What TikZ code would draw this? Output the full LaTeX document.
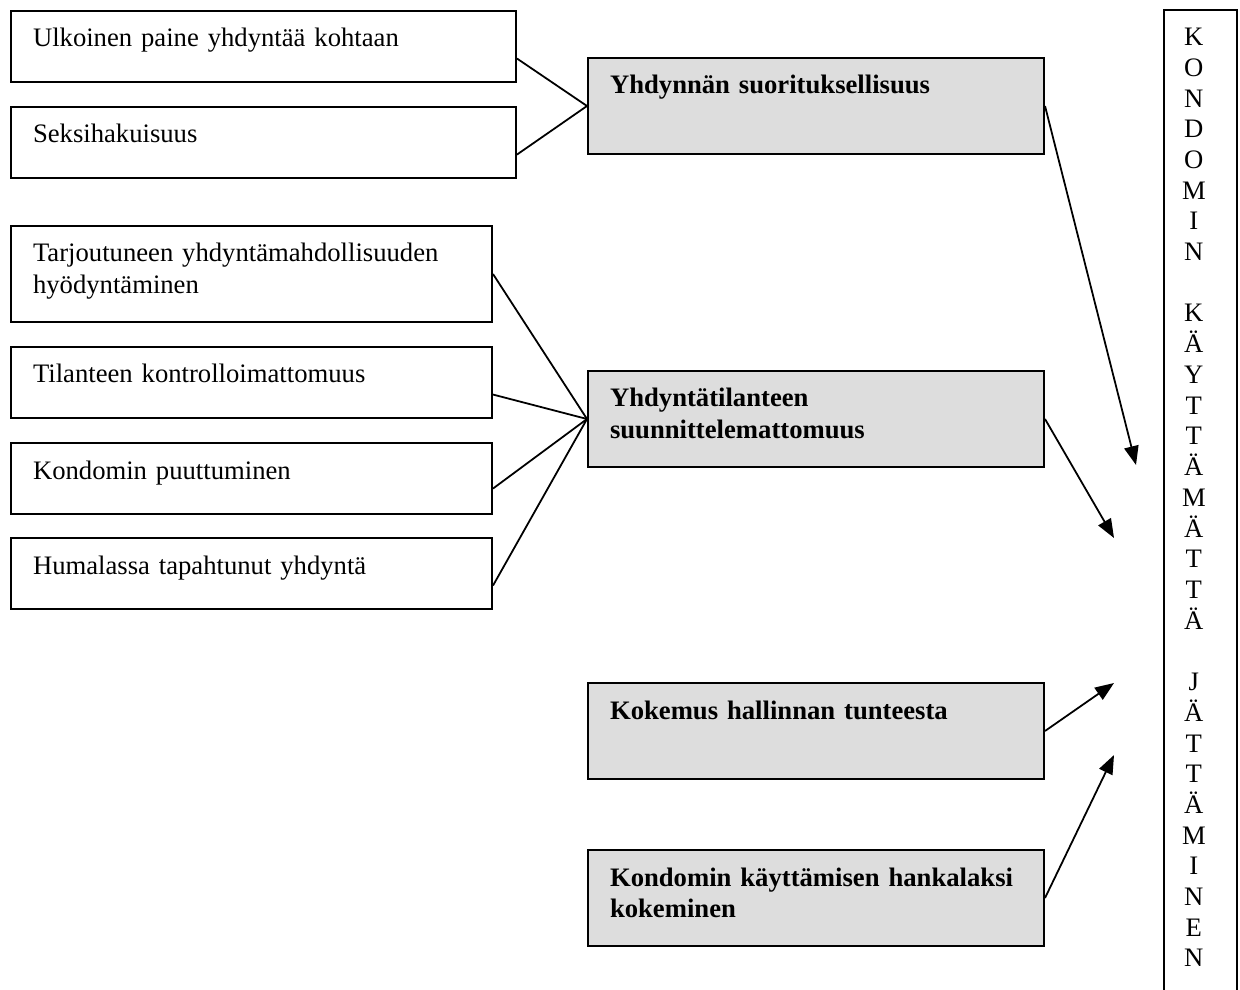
\documentclass[tikz,border=0pt]{standalone}
\usepackage{fontspec}
\setmainfont{Liberation Serif}
\usetikzlibrary{arrows.meta}
\definecolor{boxgray}{RGB}{221,221,221}
\tikzset{
  cause/.style={draw, line width=0.9pt, anchor=north west, align=left,
    inner xsep=9.9pt, inner ysep=0pt, text height=16.2pt, text depth=15.8pt,
    text width=#1, font=\fontsize{12}{14}\selectfont},
  factor/.style={cause=185.4pt, fill=boxgray, text depth=27pt,
    font=\fontsize{12}{14}\selectfont\bfseries},
  link/.style={line width=0.8pt},
  effect/.style={link, -{Triangle[length=8.5pt,width=6.5pt]}},
}

\begin{document}
\begin{tikzpicture}[x=0.45pt, y=-0.45pt]
  \useasboundingbox (0,0) rectangle (1240,990);

  % Background causes
  \node[cause=207.45pt] (ulk) at (10,10) {Ulkoinen paine yhdyntää kohtaan};
  \node[cause=207.45pt] (seks) at (10,106) {Seksihakuisuus};
  \node[cause=196.65pt, text depth=27pt] (tarj) at (10,225) {Tarjoutuneen yhdyntämahdollisuuden\\hyödyntäminen};
  \node[cause=196.65pt] (kontr) at (10,346) {Tilanteen kontrolloimattomuus};
  \node[cause=196.65pt] (puut) at (10,442) {Kondomin puuttuminen};
  \node[cause=196.65pt] (hum) at (10,537) {Humalassa tapahtunut yhdyntä};

  % Main factors
  \node[factor] (suor) at (587,57) {Yhdynnän suorituksellisuus};
  \node[factor] (suun) at (587,370) {Yhdyntätilanteen\\suunnittelemattomuus};
  \node[factor] (hall) at (587,682) {Kokemus hallinnan tunteesta};
  \node[factor] (hank) at (587,849) {Kondomin käyttämisen hankalaksi\\kokeminen};

  % Outcome, runs past the page bottom
  \node[cause=16.65pt, inner xsep=8.1pt, text depth=430pt,
    font=\fontsize{12}{13.8}\selectfont] (jatt) at (1163,9)
    {\begin{tabular}[t]{@{}c@{}}
      K\\O\\N\\D\\O\\M\\I\\N\\ \\
      K\\Ä\\Y\\T\\T\\Ä\\M\\Ä\\T\\T\\Ä\\ \\
      J\\Ä\\T\\T\\Ä\\M\\I\\N\\E\\N
    \end{tabular}};

  \coordinate (tip1) at (1136,465);
  \coordinate (tip2) at (1114,538);
  \coordinate (tip3) at (1114,683);
  \coordinate (tip4) at (1114,755);

  \draw[link] ([yshift=-5.4pt]ulk.east) -- (suor.west);
  \draw[link] ([yshift=-5.4pt]seks.east) -- (suor.west);
  \draw[link] (tarj.east) -- (suun.west);
  \draw[link] ([yshift=-5.4pt]kontr.east) -- (suun.west);
  \draw[link] ([yshift=-4.5pt]puut.east) -- (suun.west);
  \draw[link] ([yshift=-5.4pt]hum.east) -- (suun.west);

  \draw[effect] (suor.east) -- (tip1);
  \draw[effect] (suun.east) -- (tip2);
  \draw[effect] (hall.east) -- (tip3);
  \draw[effect] (hank.east) -- (tip4);
\end{tikzpicture}
\end{document}
